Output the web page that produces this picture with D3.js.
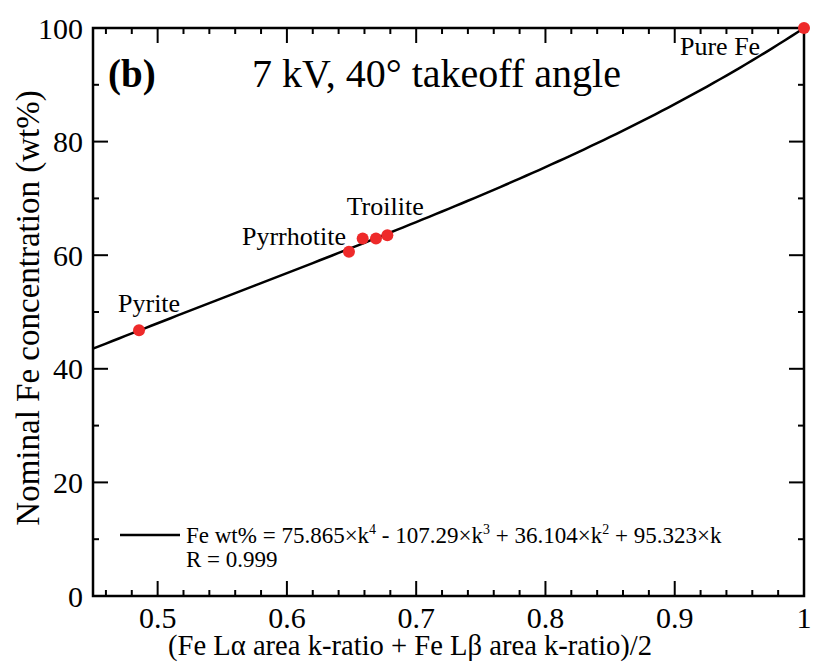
<!DOCTYPE html>
<html>
<head>
<meta charset="utf-8">
<script src="https://cdn.jsdelivr.net/npm/d3@7"></script>
<style>
  body { margin: 0; background: #fff; }
</style>
</head>
<body>
<div id="chart-area"></div>
<script>
// samples: k-ratio average vs nominal Fe wt%
const names = ['Pyrite', 'Pyrrhotite', 'Troilite', 'Troilite', 'Troilite', 'Pure Fe']
const kRatio = [0.4856, 0.648, 0.6586, 0.6689, 0.6777, 1.0]
const feWt = [46.8, 60.6, 62.95, 62.95, 63.5, 100]

// fit: Fe wt% = c4*k^4 + c3*k^3 + c2*k^2 + c1*k
const coeffs = [75.865, -107.29, 36.104, 95.323]

const xTicks = [0.5, 0.6, 0.7, 0.8, 0.9, 1]
const yTicks = [0, 20, 40, 60, 80, 100]

const MARGIN = { LEFT: 93, RIGHT: 9, TOP: 28, BOTTOM: 66 }
const W = 813, H = 662
const WIDTH = W - MARGIN.LEFT - MARGIN.RIGHT
const HEIGHT = H - MARGIN.TOP - MARGIN.BOTTOM
const FONT = '"Liberation Serif", "DejaVu Serif", serif'

const svg = d3.select('#chart-area')
  .append('svg')
  .attr('width', W)
  .attr('height', H)
  .attr('font-family', FONT)

const g = svg.append('g')
  .attr('transform', `translate(${MARGIN.LEFT},${MARGIN.TOP})`)

const x = d3.scaleLinear().domain([0.45, 1.0]).range([0, WIDTH])
const y = d3.scaleLinear().domain([0, 100]).range([HEIGHT, 0])

// minor ticks every 0.02 on x, every 10 on y
const xMinor = d3.range(0.46, 1.0, 0.02).filter(v => Math.abs(v * 10 - Math.round(v * 10)) > 0.01)
const yMinor = d3.range(10, 100, 20)

// ticks (inside, mirrored on all sides)
const tickG = g.append('g').attr('stroke', '#000').attr('stroke-width', 2)
xTicks.forEach(v => {
  tickG.append('line').attr('x1', x(v)).attr('x2', x(v)).attr('y1', HEIGHT).attr('y2', HEIGHT - 15)
  tickG.append('line').attr('x1', x(v)).attr('x2', x(v)).attr('y1', 0).attr('y2', 15)
})
xMinor.forEach(v => {
  tickG.append('line').attr('x1', x(v)).attr('x2', x(v)).attr('y1', HEIGHT).attr('y2', HEIGHT - 6)
  tickG.append('line').attr('x1', x(v)).attr('x2', x(v)).attr('y1', 0).attr('y2', 6)
})
yTicks.forEach(v => {
  tickG.append('line').attr('y1', y(v)).attr('y2', y(v)).attr('x1', 0).attr('x2', 15)
  tickG.append('line').attr('y1', y(v)).attr('y2', y(v)).attr('x1', WIDTH).attr('x2', WIDTH - 15)
})
yMinor.forEach(v => {
  tickG.append('line').attr('y1', y(v)).attr('y2', y(v)).attr('x1', 0).attr('x2', 6)
  tickG.append('line').attr('y1', y(v)).attr('y2', y(v)).attr('x1', WIDTH).attr('x2', WIDTH - 6)
})

// frame
g.append('rect')
  .attr('width', WIDTH).attr('height', HEIGHT)
  .attr('fill', 'none').attr('stroke', '#000').attr('stroke-width', 2.5)

// tick labels
g.selectAll('.xl').data(xTicks).enter().append('text')
  .attr('x', d => x(d)).attr('y', HEIGHT + 32)
  .attr('text-anchor', 'middle').attr('font-size', '30px')
  .text(d => d3.format('')(d))

g.selectAll('.yl').data(yTicks).enter().append('text')
  .attr('x', -10).attr('y', d => y(d)).attr('dy', '0.35em')
  .attr('text-anchor', 'end').attr('font-size', '30px')
  .text(d => d)

// axis titles (x title is set narrow, as in the original)
g.append('text')
  .attr('x', 75).attr('y', HEIGHT + 59)
  .attr('font-size', '30px')
  .attr('textLength', 484).attr('lengthAdjust', 'spacingAndGlyphs')
  .text('(Fe Lα area k-ratio + Fe Lβ area k-ratio)/2')

g.append('text')
  .attr('transform', 'rotate(-90)')
  .attr('x', -HEIGHT / 2 + 4).attr('y', -MARGIN.LEFT + 39)
  .attr('text-anchor', 'middle').attr('font-size', '33px')
  .text('Nominal Fe concentration (wt%)')

// fit curve
const fit = k => coeffs[0] * k ** 4 + coeffs[1] * k ** 3 + coeffs[2] * k ** 2 + coeffs[3] * k
const kGrid = d3.range(0.45, 1.0001, 0.005)
g.append('path')
  .datum(kGrid)
  .attr('fill', 'none').attr('stroke', '#000').attr('stroke-width', 2.5)
  .attr('d', d3.line().x(d => x(d)).y(d => y(fit(d))))

// points
const pts = kRatio.map((k, i) => ({ k: k, w: feWt[i], name: names[i] }))
g.selectAll('circle').data(pts).enter().append('circle')
  .attr('cx', d => x(d.k)).attr('cy', d => y(d.w))
  .attr('r', 6).attr('fill', '#ee2a2a')

// sample labels
const lab = [
  { t: 'Pyrite', i: 0, dx: -21, dy: -18 },
  { t: 'Pyrrhotite', i: 1, dx: -107, dy: -7 },
  { t: 'Troilite', i: 2, dx: -16, dy: -23 },
  { t: 'Pure Fe', i: 5, dx: -124, dy: 27 }
]
g.selectAll('.lab').data(lab).enter().append('text')
  .attr('x', d => x(kRatio[d.i]) + d.dx)
  .attr('y', d => y(feWt[d.i]) + d.dy)
  .attr('font-size', '26px')
  .text(d => d.t)

// panel label and title
g.append('text').attr('x', 15).attr('y', 59)
  .attr('font-size', '39px').attr('font-weight', 'bold').text('(b)')
g.append('text').attr('x', 159).attr('y', 59)
  .attr('font-size', '40px').text('7 kV, 40° takeoff angle')

// legend
g.append('line')
  .attr('x1', 27).attr('x2', 87).attr('y1', 507).attr('y2', 507)
  .attr('stroke', '#000').attr('stroke-width', 2.5)
const leg = g.append('text').attr('x', 93).attr('y', 515).attr('font-size', '23px')
leg.append('tspan').text('Fe wt% = 75.865×k')
leg.append('tspan').attr('font-size', '14px').attr('dy', -9).text('4')
leg.append('tspan').attr('dy', 9).text(' - 107.29×k')
leg.append('tspan').attr('font-size', '14px').attr('dy', -9).text('3')
leg.append('tspan').attr('dy', 9).text(' + 36.104×k')
leg.append('tspan').attr('font-size', '14px').attr('dy', -9).text('2')
leg.append('tspan').attr('dy', 9).text(' + 95.323×k')
g.append('text').attr('x', 93).attr('y', 539).attr('font-size', '23px').text('R = 0.999')
</script>
</body>
</html>
